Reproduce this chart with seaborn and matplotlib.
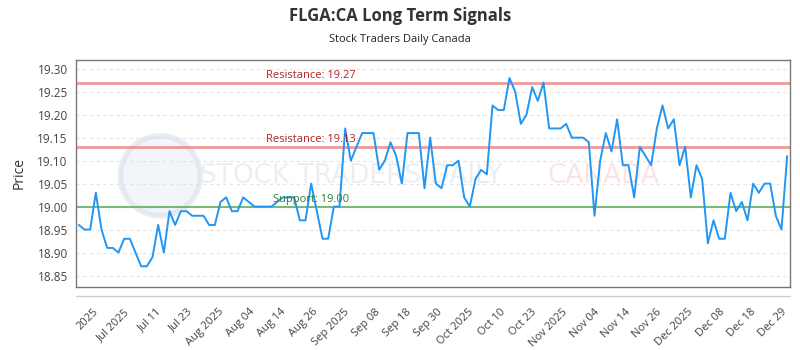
import numpy as np
import pandas as pd
import matplotlib
matplotlib.use("Agg")
import matplotlib.pyplot as plt
from matplotlib.patches import Ellipse
import seaborn as sns

sns.set_style("white")
plt.rcParams['font.family'] = ['Open Sans', 'DejaVu Sans']

########################################

prices = [
    18.96, 18.95, 18.95, 19.03, 18.95, 18.91, 18.91, 18.90, 18.93, 18.93,
    18.90, 18.87, 18.87, 18.89, 18.96, 18.90, 18.99, 18.96, 18.99, 18.99,
    18.98, 18.98, 18.98, 18.96, 18.96,
    19.01, 19.02, 18.99, 18.99, 19.02, 19.01, 19.00, 19.00, 19.00, 19.00,
    19.01, 19.02, 19.02, 19.02, 18.97, 18.97, 19.05, 18.99, 18.93, 18.93,
    19.00, 19.00, 19.17,
    19.10, 19.13, 19.16, 19.16, 19.16, 19.08, 19.10, 19.14, 19.11, 19.05,
    19.16, 19.16, 19.16, 19.04, 19.15, 19.05, 19.04, 19.09, 19.09, 19.10,
    19.02, 19.00, 19.06, 19.08, 19.07,
    19.22, 19.21, 19.21, 19.28, 19.25, 19.18, 19.20, 19.26, 19.23, 19.27,
    19.17, 19.17, 19.17, 19.18, 19.15, 19.15, 19.15, 19.14, 18.98, 19.10,
    19.16, 19.12, 19.19, 19.09, 19.09, 19.02,
    19.13, 19.11, 19.09, 19.17, 19.22, 19.17, 19.19, 19.09, 19.13, 19.02,
    19.09, 19.06, 18.92, 18.97, 18.93, 18.93, 19.03, 18.99, 19.01, 18.97,
    19.05, 19.03, 19.05, 19.05, 18.98, 18.95, 19.11,
]

tick_labels = [
    "2025", "Jul 2025", "Jul 11", "Jul 23", "Aug 2025", "Aug 04", "Aug 14",
    "Aug 26", "Sep 2025", "Sep 08", "Sep 18", "Sep 30", "Oct 2025", "Oct 10",
    "Oct 23", "Nov 2025", "Nov 04", "Nov 14", "Nov 26", "Dec 2025", "Dec 08",
    "Dec 18", "Dec 29",
]

resistance_levels = [19.27, 19.13]
support_levels = [19.00]

y_ticks = [18.85, 18.90, 18.95, 19.00, 19.05, 19.10, 19.15, 19.20, 19.25, 19.30]

########################################

df = pd.DataFrame({"idx": np.arange(len(prices)), "price": prices})

fig = plt.figure(figsize=(8, 3.5), dpi=100)
ax = fig.add_axes([0.095, 0.18, 0.8925, 0.6486])

# watermark (logo circle + text), axes is 714x227 px so the ellipse looks round
ax.add_patch(Ellipse((0.118, 0.49), 0.112, 0.352, transform=ax.transAxes,
                     facecolor="#e6ecf5", edgecolor="#d3dded", lw=4,
                     alpha=0.5, zorder=0))
ax.text(0.174, 0.49, "STOCK TRADERS DAILY", transform=ax.transAxes,
        fontsize=19, color="#dfe5ee", alpha=0.6, va="center", ha="left",
        family="DejaVu Sans", zorder=0)
ax.text(0.66, 0.49, "CANADA", transform=ax.transAxes,
        fontsize=19, color="#fbd3d3", alpha=0.6, va="center", ha="left",
        family="DejaVu Sans", zorder=0)

for lvl in resistance_levels:
    ax.axhline(lvl, color="#f08080", lw=2, alpha=0.8, zorder=1)
    ax.text(33, lvl + 0.004, "Resistance: {:.2f}".format(lvl),
            color="#b22222", fontsize=8, va="bottom", ha="left", zorder=3)
for lvl in support_levels:
    ax.axhline(lvl, color="#6ab46a", lw=1.5, alpha=0.9, zorder=1)
    ax.text(34.3, lvl + 0.003, "Support: {:.2f}".format(lvl),
            color="#2e7d32", fontsize=8, va="bottom", ha="left", zorder=3)

sns.lineplot(data=df, x="idx", y="price", color="#2196f3", lw=1.4, ax=ax, zorder=2)

ax.set_xlim(-0.5, 125.5)
ax.set_ylim(18.825, 19.319)
ax.set_yticks(y_ticks)
ax.set_yticklabels(["{:.2f}".format(t) for t in y_ticks])
ax.yaxis.grid(True, linestyle=(0, (3, 3)), color="#e3e3e3", lw=0.8)
ax.set_axisbelow(True)

ax.set_xticks(np.linspace(2.5, 124, len(tick_labels)))
ax.set_xticklabels(tick_labels, rotation=45, ha="right", rotation_mode="anchor")
ax.tick_params(axis="x", length=0, pad=14, labelsize=8, labelcolor="#444444")
ax.tick_params(axis="y", length=0, pad=6, labelsize=8.5, labelcolor="#444444")

ax.set_xlabel("")
ax.set_ylabel("Price", fontsize=10, color="#333333", labelpad=8)

for s in ax.spines.values():
    s.set_color("#777777")
    s.set_linewidth(1)

# detached x axis line below the frame
ax.plot([0, 1], [-0.04, -0.04], transform=ax.transAxes, clip_on=False,
        color="#cccccc", lw=1)

fig.text(0.5, 0.955, "FLGA:CA Long Term Signals", ha="center", va="center",
         fontsize=12, fontweight="bold", color="#333333")
fig.text(0.5, 0.886, "Stock Traders Daily Canada", ha="center", va="center",
         fontsize=8, color="#222222")

plt.savefig("out.png", dpi=100)
